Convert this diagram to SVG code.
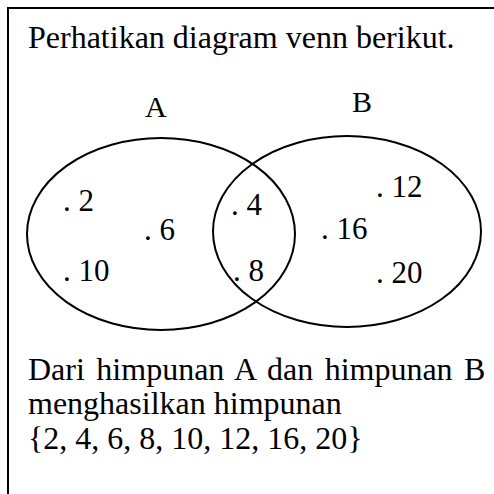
<svg xmlns="http://www.w3.org/2000/svg" width="494" height="494" viewBox="0 0 494 494">
<style>
text{font-family:"Liberation Serif","Times New Roman",serif;fill:#000}
.t{font-size:32px}
.n{font-size:31px}
.lbl{font-size:30px}
.e{fill:none;stroke:#000;stroke-width:2}
</style>
<rect x="0" y="0" width="494" height="494" fill="#fff"/>
<rect x="8" y="8" width="500" height="500" fill="none" stroke="#000" stroke-width="2"/>
<text class="t" x="28" y="48">Perhatikan diagram venn berikut.</text>
<g id="setA">
<ellipse class="e" cx="161" cy="234" rx="134" ry="96"/>
<text class="lbl" x="145" y="117">A</text>
</g>
<g id="setB">
<ellipse class="e" cx="347" cy="231.5" rx="134" ry="95.5"/>
<text class="lbl" x="352" y="112">B</text>
</g>
<g id="elements">
<text class="n" x="63" y="211">. 2</text>
<text class="n" x="144" y="240">. 6</text>
<text class="n" x="63" y="281">. 10</text>
<text class="n" x="231" y="215">. 4</text>
<text class="n" x="233" y="281">. 8</text>
<text class="n" x="321" y="239">. 16</text>
<text class="n" x="376" y="197">. 12</text>
<text class="n" x="376" y="283">. 20</text>
</g>
<g id="connectors"/>
<text class="t" x="28" y="380" word-spacing="3.5">Dari himpunan A dan himpunan B</text>
<text class="t" x="28" y="414">menghasilkan himpunan</text>
<text class="t" x="28" y="449">{2, 4, 6, 8, 10, 12, 16, 20}</text>
</svg>
